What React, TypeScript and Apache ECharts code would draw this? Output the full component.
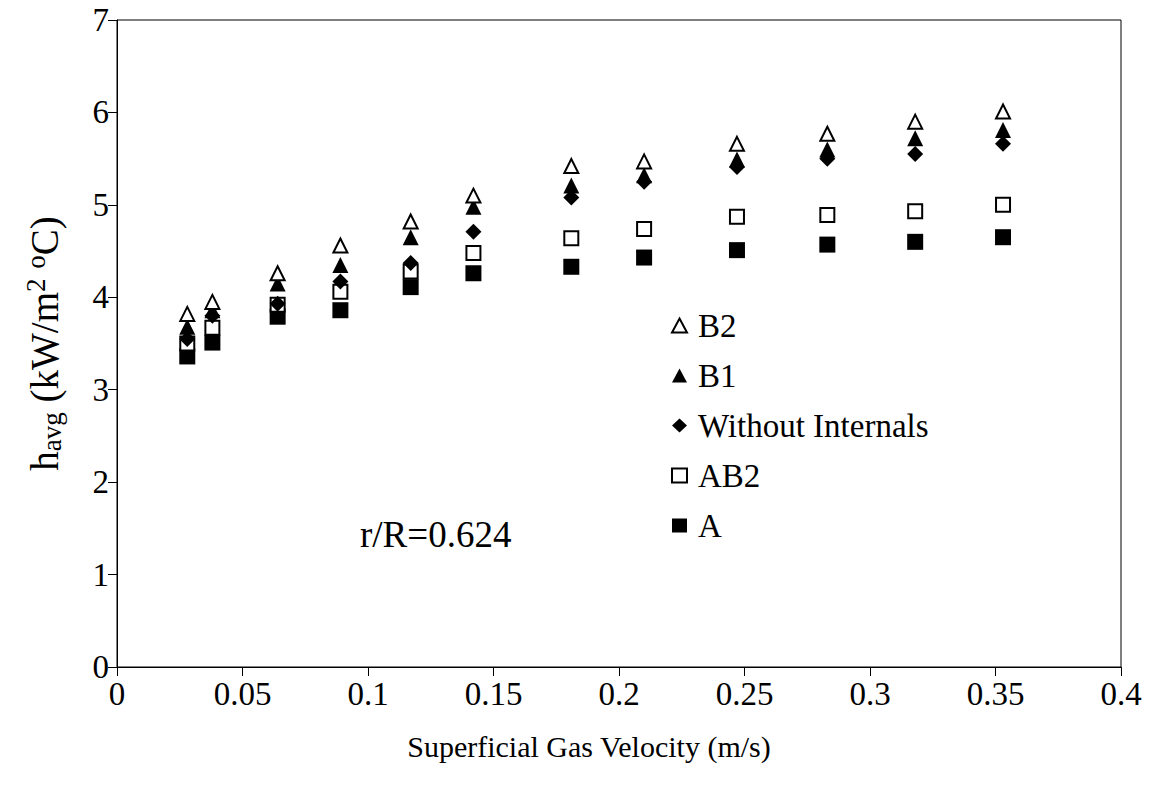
import React, { useEffect, useRef } from "react";
import * as echarts from "echarts";

const velocity = [0.028, 0.038, 0.064, 0.089, 0.117, 0.142, 0.181, 0.21, 0.247, 0.283, 0.318, 0.353];
const b2 = [3.82, 3.95, 4.26, 4.56, 4.82, 5.1, 5.42, 5.47, 5.66, 5.77, 5.9, 6.01];
const b1 = [3.68, 3.86, 4.15, 4.35, 4.65, 4.98, 5.21, 5.32, 5.49, 5.6, 5.72, 5.81];
const withoutInternals = [3.55, 3.8, 3.93, 4.17, 4.37, 4.71, 5.08, 5.25, 5.41, 5.5, 5.55, 5.66];
const ab2 = [3.5, 3.67, 3.92, 4.06, 4.28, 4.48, 4.64, 4.74, 4.87, 4.89, 4.93, 5.0];
const aSeries = [3.36, 3.51, 3.79, 3.86, 4.11, 4.26, 4.33, 4.43, 4.51, 4.57, 4.6, 4.65];

const xTicks = { min: 0, max: 0.4, interval: 0.05 };
const yTicks = { min: 0, max: 7, interval: 1 };
const annotation = "r/R=0.624";

const FONT = "'Liberation Serif', 'Times New Roman', serif";

const pair = (ys: number[]) => velocity.map((x, i) => [x, ys[i]]);

export default function App() {
  const ref = useRef<HTMLDivElement>(null);
  useEffect(() => {
    if (!ref.current) return;
    const chart = echarts.init(ref.current, undefined, { renderer: "svg" });
    const hollow = { color: "#fff", borderColor: "#000", borderWidth: 2, opacity: 1 };
    const filled = { color: "#000", borderColor: "#000", borderWidth: 0, opacity: 1 };
    const mk = (name: string, data: number[], symbol: string, style: any, size: number) => ({
      name,
      type: "scatter",
      data: pair(data),
      symbol,
      symbolSize: size,
      itemStyle: style,
      emphasis: { disabled: true },
    });
    chart.setOption({
      animation: false,
      backgroundColor: "#fff",
      textStyle: { fontFamily: FONT, color: "#000" },
      grid: {
        left: 117,
        right: 34,
        top: 20,
        bottom: 131,
        show: true,
        borderColor: "#000",
        borderWidth: 1,
      },
      legend: {
        orient: "vertical",
        left: 666,
        top: 304,
        itemGap: 17,
        itemWidth: 15,
        itemHeight: 14,
        textStyle: { fontFamily: FONT, fontSize: 33, color: "#000", padding: [0, 0, 0, 6] },
        data: [
          { name: "B2", icon: "triangle" },
          { name: "B1", icon: "triangle" },
          { name: "Without Internals", icon: "diamond" },
          { name: "AB2", icon: "rect" },
          { name: "A", icon: "rect" },
        ],
      },
      graphic: [
        {
          type: "text",
          left: 360,
          top: 516,
          style: { text: annotation, font: `37px ${FONT}`, fill: "#000" },
        },
      ],
      xAxis: {
        type: "value",
        min: xTicks.min,
        max: xTicks.max,
        interval: xTicks.interval,
        splitLine: { show: false },
        axisLine: { lineStyle: { color: "#000", width: 1 } },
        axisTick: { show: true, inside: false, length: 9, lineStyle: { color: "#000" } },
        axisLabel: { fontFamily: FONT, fontSize: 33, color: "#000", margin: 10 },
        name: "Superficial Gas Velocity (m/s)",
        nameLocation: "middle",
        nameGap: 64,
        nameTextStyle: { fontFamily: FONT, fontSize: 30, color: "#000", padding: [0, 60, 0, 0] },
      },
      yAxis: {
        type: "value",
        min: yTicks.min,
        max: yTicks.max,
        interval: yTicks.interval,
        splitLine: { show: false },
        axisLine: { lineStyle: { color: "#000", width: 1 } },
        axisTick: { show: true, inside: false, length: 9, lineStyle: { color: "#000" } },
        axisLabel: { fontFamily: FONT, fontSize: 33, color: "#000", margin: 8 },
        name: "{b|h}{s|avg}{b| (kW/m}{p|2}{b| }{p|o}{b|C)}",
        nameLocation: "middle",
        nameRotate: 90,
        nameGap: 52,
        nameTextStyle: {
          fontFamily: FONT,
          color: "#000",
          rich: {
            b: { fontFamily: FONT, fontSize: 39, color: "#000", lineHeight: 42, verticalAlign: "middle" },
            s: { fontFamily: FONT, fontSize: 27, color: "#000", padding: [16, 0, 0, 0], lineHeight: 42 },
            p: { fontFamily: FONT, fontSize: 27, color: "#000", padding: [0, 0, 16, 0], lineHeight: 42 },
          },
        },
      },
      series: [
        mk("A", aSeries, "rect", filled, 16),
        mk("AB2", ab2, "rect", hollow, 14),
        mk("Without Internals", withoutInternals, "diamond", filled, 16),
        mk("B1", b1, "triangle", filled, 16),
        mk("B2", b2, "triangle", hollow, 14),
      ],
    });
    return () => chart.dispose();
  }, []);
  return <div ref={ref} style={{ width: 1155, height: 798, margin: -8 }} />;
}
